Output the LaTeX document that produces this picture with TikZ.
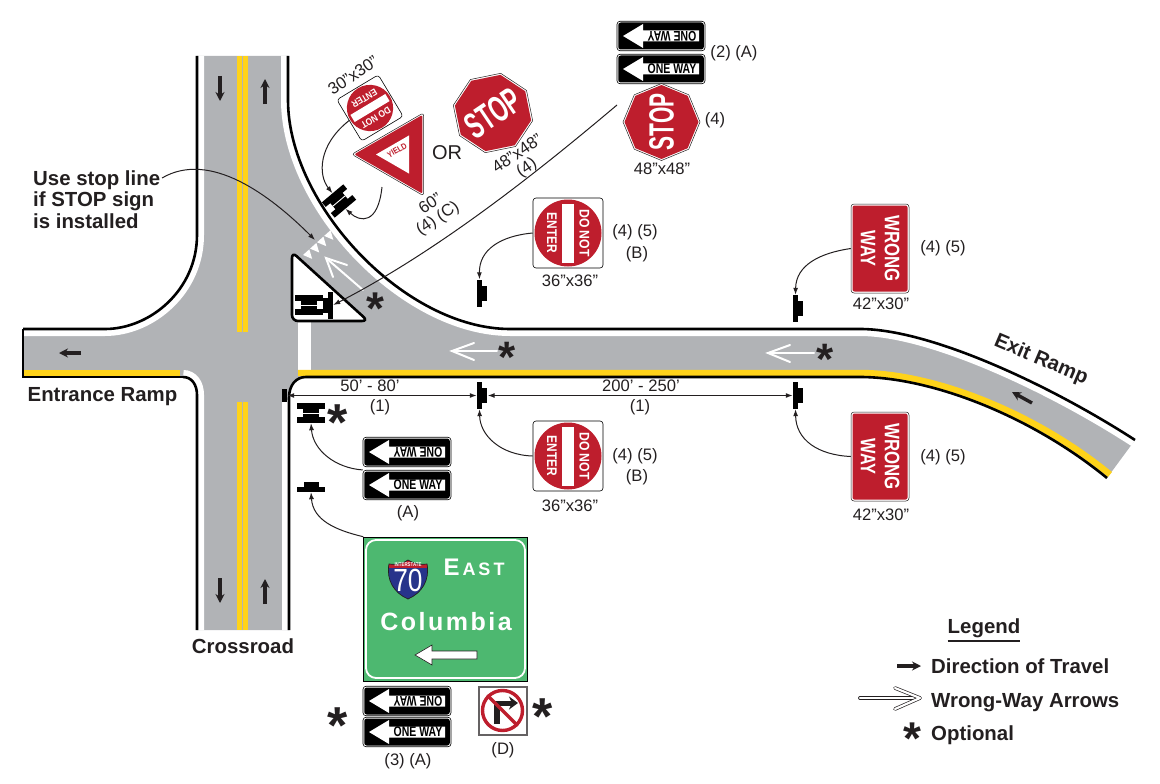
\documentclass[tikz,border=0pt]{standalone}
\usepackage{fontspec}
\setmainfont{Liberation Sans}
\newfontfamily\greenfont[LetterSpace=10]{Liberation Sans}
\usetikzlibrary{shapes.geometric, positioning, arrows.meta}
\definecolor{signred}{HTML}{BE1E2D}
\definecolor{roadgray}{HTML}{B1B3B6}
\definecolor{lineyellow}{HTML}{FFD31A}
\definecolor{signgreen}{HTML}{4DB870}
\definecolor{shieldblue}{HTML}{27348B}
\definecolor{inkblack}{HTML}{231F20}
\tikzset{
    size/.style={font=\fontsize{#1}{#1}\selectfont},
    lab/.style={size=16.6,text=inkblack,inner sep=0pt},
    head/.style={font=\fontsize{20.4}{21.5}\selectfont\bfseries,text=inkblack,inner sep=0pt},
    optstar/.style={font=\fontsize{#1}{#1}\selectfont\bfseries,text=inkblack,inner sep=0pt},
    roadedge/.style={draw=black,line width=2.6,preaction={draw=white,line width=14}},
    conn/.style={-{Latex[length=7pt,width=5pt]},line width=1,draw=inkblack},
    dim/.style={{Latex[length=7pt,width=5pt]}-{Latex[length=7pt,width=5pt]},line width=1.2,draw=inkblack},
    travel/.style={-{Stealth[length=9pt,width=9pt]},line width=3.4,draw=inkblack},
    wrongway/.style={white,line width=2,line cap=round},
    postbar/.style={fill=black,inner sep=0pt,minimum width=5,minimum height=27},
    postbump/.style={fill=black,inner sep=0pt,minimum width=5,minimum height=15},
    every pic/.style={transform shape},
    ibeam/.pic={
        \node[fill=black,inner sep=0pt,minimum width=28,minimum height=6] (-upper) at (0,-7) {};
        \node[fill=black,inner sep=0pt,minimum width=28,minimum height=6] (-lower) at (0,7) {};
        \node[fill=black,inner sep=0pt,minimum width=16,minimum height=9] (-web) at (0,0) {};
        \draw[white,line width=0.9] (-web.west) -- (-web.east);
    },
    oneway/.pic={
        \node[draw=black,fill=white,line width=0.6,rounded corners=3,inner sep=0pt,minimum width=88,minimum height=29.5] (-board) at (0,0) {};
        \node[fill=black,rounded corners=2.5,inner sep=0pt,minimum width=85.5,minimum height=27] (-face) at (0,0) {};
        \fill[white] (-38,0) -- (-18,-12) -- (-18,-5.5) -- (38,-5.5) -- (38,5.5) -- (-18,5.5) -- (-18,12) -- cycle;
        \node[font=\fontsize{14}{14}\selectfont\bfseries,xscale=0.75,inner sep=0pt] (-txt) at (11,0) {ONE WAY};
    },
    yawone/.pic={
        \node[draw=black,fill=white,line width=0.6,rounded corners=3,inner sep=0pt,minimum width=88,minimum height=29.5] (-board) at (0,0) {};
        \node[fill=black,rounded corners=2.5,inner sep=0pt,minimum width=85.5,minimum height=27] (-face) at (0,0) {};
        \fill[white] (-38,0) -- (-18,-12) -- (-18,-5.5) -- (38,-5.5) -- (38,5.5) -- (-18,5.5) -- (-18,12) -- cycle;
        \node[font=\fontsize{14}{14}\selectfont\bfseries,xscale=0.75,rotate=180,inner sep=0pt] (-txt) at (11,0) {ONE WAY};
    },
    donotenter/.pic={
        \node[draw=black,fill=white,line width=0.6,rounded corners=3,inner sep=0pt,minimum size=70] (-board) at (0,0) {};
        \node[circle,fill=signred,inner sep=0pt,minimum size=67] (-disc) at (0,0) {};
        \node[fill=white,inner sep=0pt,minimum width=59,minimum height=12] (-bar) at (0,0) {};
        \node[font=\fontsize{14}{14}\selectfont\bfseries,text=white,xscale=0.87,inner sep=0pt] (-up) at (0,-16.5) {DO NOT};
        \node[font=\fontsize{14}{14}\selectfont\bfseries,text=white,xscale=0.85,inner sep=0pt] (-dn) at (0,16) {ENTER};
    },
    wrongsign/.pic={
        \node[draw=inkblack,fill=white,line width=0.5,rounded corners=3,inner sep=0pt,minimum width=89,minimum height=58] (-board) at (0,0) {};
        \node[fill=signred,rounded corners=2,inner sep=0pt,minimum width=86,minimum height=55] (-face) at (0,0) {};
        \node[font=\fontsize{21}{21}\selectfont\bfseries,text=white,xscale=0.8,inner sep=0pt] (-up) at (0,-12) {WRONG};
        \node[font=\fontsize{21}{21}\selectfont\bfseries,text=white,xscale=0.78,inner sep=0pt] (-dn) at (0,12) {WAY};
    },
    stopsign/.pic={
        \node[regular polygon,regular polygon sides=8,shape border rotate=22.5,draw=inkblack,fill=white,line width=0.5,inner sep=0pt,minimum size=77] (-board) at (0,0) {};
        \node[regular polygon,regular polygon sides=8,shape border rotate=22.5,fill=signred,inner sep=0pt,minimum size=74] (-face) at (0,0) {};
        \node[font=\fontsize{35}{35}\selectfont\bfseries,text=white,xscale=0.6,inner sep=0pt] (-txt) at (0,0) {STOP};
    },
}
\begin{document}
\begin{tikzpicture}[x=1pt,y=-1pt]
    \useasboundingbox (0,0) rectangle (1160,784);
    % pavement
    \fill[roadgray] (197,56) -- (197,235) .. controls (197,290) and (150,329) .. (105,329) -- (23,329) -- (23,377)
        -- (183,377) .. controls (192,377) and (197,385) .. (197,395) -- (197,630) -- (289,630) -- (289,398)
        .. controls (289,385) and (296,377) .. (306,377) -- (860,377) .. controls (930,377) and (1030,415) .. (1107,478)
        -- (1135,440) .. controls (1050,385) and (930,329) .. (860,329) -- (510,329) .. controls (405,329) and (288,205) .. (288,100) -- (288,56) -- cycle;
    % edges of the roads
    \draw[roadedge] (197,56) -- (197,235) .. controls (197,290) and (150,329) .. (105,329) -- (23,329);
    \draw[roadedge] (183,377) .. controls (192,377) and (197,385) .. (197,395) -- (197,630);
    \draw[roadedge] (288,56) -- (288,100) .. controls (288,205) and (405,329) .. (510,329) -- (860,329) .. controls (930,329) and (1050,385) .. (1135,440);
    \fill[white] (282,400) rectangle (289,630);
    \fill[white] (298,321) rectangle (311,370);
    \draw[lineyellow,line width=6.4] (23,373) -- (180,373);
    \draw[lineyellow,line width=6.4] (298,373) -- (860,373) .. controls (932,373) and (1033,411.5) .. (1110,474.5);
    \draw[line width=2.6] (183,377) -- (23,377) -- (23,329);
    \draw[line width=2.6] (289,630) -- (289,398) .. controls (289,385) and (296,377) .. (306,377) -- (860,377) .. controls (930,377) and (1030,415) .. (1107,478);
    % centre lines
    \foreach \x in {239.6,245.4}{
    \draw[lineyellow,line width=5.2] (\x,56) -- (\x,332);
    \draw[lineyellow,line width=5.2] (\x,402) -- (\x,630);
    }
    % stop line teeth
    \begin{scope}[shift={(303,255)},rotate=42]
    \foreach \t in {0,...,3}
    \fill[white] (\t*9.5,0) -- (\t*9.5+8.5,0) -- (\t*9.5+4.2,9) -- cycle;
    \end{scope}
    % island
    \draw[fill=white,line width=2.6,rounded corners=6] (292,252) -- (292,321) -- (368,321) -- cycle;
    \draw[wrongway] (363,290) -- (326,258);
    \draw[wrongway] (347,265) -- (326,258) -- (333,277);
    % arrows on the pavement
    \draw[travel] (220,76) -- (220,101);
    \draw[travel] (265,104) -- (265,79);
    \draw[travel] (220,578) -- (220,603);
    \draw[travel] (265,604) -- (265,579);
    \draw[travel] (81,353) -- (59,353);
    \draw[travel] (1032,403) -- (1012,392);
    \draw[wrongway] (497,351) -- (452,351);
    \draw[wrongway] (474,343) -- (452,351) -- (474,360);
    \draw[wrongway] (814,353) -- (768,353);
    \draw[wrongway] (790,345) -- (768,353) -- (790,362);
    % posts
    \foreach \name/\x/\y in {postB/479.5/293,postW/795.5/308.5,postC/479.5/395.5,postX/795.5/395.5}{
    \node[postbar] (\name) at (\x,\y) {};
    \node[postbump,right=0pt of \name] (\name-b) {};
    }
    \node[fill=black,inner sep=0pt,minimum width=5,minimum height=13] (postS) at (284.5,395.5) {};
    \node[postbar,minimum width=5,minimum height=27] (postI) at (330.5,305) {};
    \node[postbump,minimum width=5,left=0pt of postI] (postI-b) {};
    \pic (ibeamI) at (309,305) {ibeam};
    \pic (ibeamS) at (311,413) {ibeam};
    \pic[rotate=40] (ibeamY) at (339,201) {ibeam};
    \node[fill=black,inner sep=0pt,minimum width=28,minimum height=5] (postT) at (311,489.5) {};
    \node[fill=black,inner sep=0pt,minimum width=15,minimum height=5,above=0pt of postT] (postT-b) {};
    % signs
    \pic (owA) at (661,36) {yawone};
    \pic (owB) at (661,69) {oneway};
    \pic (owC) at (407,452) {yawone};
    \pic (owD) at (407,485) {oneway};
    \pic (owE) at (407,701) {yawone};
    \pic (owF) at (407,732) {oneway};
    \pic[rotate=90] (stopA) at (661.5,122) {stopsign};
    \pic[rotate=34,scale=1.05] (stopB) at (493,113) {stopsign};
    \pic[rotate=-90] (dneA) at (568,233) {donotenter};
    \pic[rotate=-90] (dneB) at (568,456) {donotenter};
    \pic[rotate=211,scale=0.69] (dneC) at (370,108) {donotenter};
    \pic[rotate=-90] (wrongA) at (880,248.5) {wrongsign};
    \pic[rotate=-90] (wrongB) at (880,456.5) {wrongsign};
    % yield
    \node[regular polygon,regular polygon sides=3,shape border rotate=90,rounded corners=3,draw=inkblack,fill=white,line width=0.5,inner sep=0pt,minimum size=96] (yieldA) at (399.7,154.3) {};
    \node[regular polygon,regular polygon sides=3,shape border rotate=90,rounded corners=2,fill=signred,inner sep=0pt,minimum size=91] (yieldR) at (399.7,154.3) {};
    \node[regular polygon,regular polygon sides=3,shape border rotate=90,fill=white,inner sep=0pt,minimum size=44] (yieldW) at (398,154.5) {};
    \node[font=\fontsize{8.5}{8.5}\selectfont\bfseries,text=signred,rotate=30,xscale=0.85,inner sep=0pt] (yieldT) at (397,150.5) {YIELD};
    \coordinate (yieldfoot) at (382,187);
    % guide sign
    \node[draw=black,fill=signgreen,line width=0.6,inner sep=0pt,minimum width=164,minimum height=144] (guide) at (445.5,609) {};
    \draw[white,line width=1.8,rounded corners=10] (366,540) rectangle (525,678);
    \begin{scope}
    \clip (389,564) .. controls (395,565) and (403,564) .. (408,560) .. controls (414,564) and (421,565) .. (427,564) .. controls (430,580) and (422,593) .. (408,599) .. controls (394,593) and (386,580) .. (389,564) -- cycle;
    \fill[shieldblue] (385,556) rectangle (431,603);
    \fill[signred] (385,556) rectangle (431,567.5);
    \end{scope}
    \draw[inkblack,line width=0.7] (389,564) .. controls (395,565) and (403,564) .. (408,560) .. controls (414,564) and (421,565) .. (427,564) .. controls (430,580) and (422,593) .. (408,599) .. controls (394,593) and (386,580) .. (389,564) -- cycle;
    \node[font=\fontsize{5.5}{5.5}\selectfont\bfseries,text=white,xscale=0.8,inner sep=0pt] (shieldT) at (408,564.5) {INTERSTATE};
    \node[font=\fontsize{32}{32}\selectfont,text=white,xscale=0.82,inner sep=0pt] (shieldN) at (408,580.5) {70};
    \node[font=\bfseries,text=white,inner sep=0pt] (east) at (474,567) {\fontsize{24}{24}\selectfont E\fontsize{18}{18}\selectfont\,A\,S\,T};
    \node[font=\fontsize{25}{25}\selectfont\greenfont\bfseries,text=white,inner sep=0pt] (columbia) at (446,622) {Columbia};
    \draw[inkblack,fill=white,line width=0.6] (415,655) -- (432,645) -- (432,651) -- (477,651) -- (477,659) -- (432,659) -- (432,665) -- cycle;
    % no right turn
    \node[draw=inkblack!70,fill=white,line width=1.4,inner sep=0pt,minimum size=48] (noturn) at (503,711) {};
    \draw[inkblack,line width=6] (497,724) -- (497,703);
    \draw[inkblack,-{Stealth[length=9pt,width=13pt]},line width=5] (494,703) -- (518,703);
    \node[circle,draw=signred,line width=3.4,inner sep=0pt,minimum size=40] (noring) at (502.5,710.5) {};
    \draw[signred,line width=3.4] (noring.north west) -- (noring.south east);
    % connectors
    \node[head,align=left,anchor=west] (usestop) at (33,199.5) {Use stop line\\if STOP sign\\is installed};
    \coordinate (stoptail) at (162,178);
    \coordinate (stophead) at (617,105);
    \draw[conn] (stoptail) .. controls (210,150) and (270,195) .. (315,240);
    \draw[conn] (stophead) .. controls (540,170) and (440,250) .. (postI.east);
    \draw[conn] (dneC-board.east) .. controls (318,145) and (318,175) .. (ibeamY-upper.north);
    \draw[conn] (yieldfoot) .. controls (378,225) and (360,222) .. (ibeamY-lower.south);
    \draw[conn] (dneA-board.south) .. controls (500,236) and (479,250) .. (postB.north);
    \draw[conn] (wrongA-board.south) .. controls (820,253) and (796,265) .. (postW.north);
    \draw[conn] (dneB-board.south) .. controls (500,455) and (480,435) .. (postC.south);
    \draw[conn] (wrongB-board.south) .. controls (818,455) and (796,440) .. (postX.south);
    \draw[conn] (owD-board.north west) .. controls (335,468) and (313,450) .. (ibeamS-lower.south);
    \draw[conn] (guide.north west) .. controls (335,530) and (313,520) .. (postT.south);
    \draw[dim] (postS.east) -- (postC.west);
    \draw[dim] (postC-b.east) -- (postX.west);
    % road names
    \node[head] (entrance) at (102.5,396.5) {Entrance Ramp};
    \node[head] (crossroad) at (243,646) {Crossroad};
    \node[head,rotate=-23] (exitramp) at (1041,360) {Exit Ramp};
    \node[head,font=\fontsize{20}{20}\selectfont] (orsign) at (447,153) {OR};
    % sizes and notes
    \node[lab] (dimA) at (370,386) {50’ - 80’};
    \node[lab] (dimB) at (380,407) {(1)};
    \node[lab] (dimC) at (641,386) {200’ - 250’};
    \node[lab] (dimD) at (640,407) {(1)};
    \node[lab] (noteA) at (734,53) {(2) (A)};
    \node[lab] (noteB) at (715,120) {(4)};
    \node[lab] (noteC) at (662,169) {48”x48”};
    \node[lab,rotate=34] (noteD) at (353,75) {30”x30”};
    \node[lab,rotate=34] (noteE) at (517,153) {48”x48”};
    \node[lab,rotate=34] (noteF) at (527,168) {(4)};
    \node[lab,rotate=34] (noteG) at (430,203) {60”};
    \node[lab,rotate=34] (noteH) at (438,219) {(4) (C)};
    \node[lab] (noteI) at (635,232) {(4) (5)};
    \node[lab] (noteJ) at (637,254) {(B)};
    \node[lab] (noteK) at (570,281) {36”x36”};
    \node[lab] (noteL) at (943,248) {(4) (5)};
    \node[lab] (noteM) at (881,304) {42”x30”};
    \node[lab] (noteN) at (635,456) {(4) (5)};
    \node[lab] (noteO) at (637,477) {(B)};
    \node[lab] (noteP) at (570,506) {36”x36”};
    \node[lab] (noteQ) at (943,457) {(4) (5)};
    \node[lab] (noteR) at (881,515) {42”x30”};
    \node[lab] (noteS) at (408,513) {(A)};
    \node[lab] (noteT) at (408,761) {(3) (A)};
    \node[lab] (noteU) at (503,750) {(D)};
    % optional marks
    \node[optstar=46] (starA) at (375,308.5) {*};
    \node[optstar=44] (starB) at (507,357) {*};
    \node[optstar=44] (starC) at (825,359) {*};
    \node[optstar=52] (starD) at (338,423) {*};
    \node[optstar=52] (starE) at (338,726) {*};
    \node[optstar=52] (starF) at (543,717) {*};
    \node[optstar=46] (starG) at (912,738.5) {*};
    % legend
    \node[head] (legend) at (984,628) {Legend};
    \draw[inkblack,line width=1.6] ([yshift=-3]legend.south west) -- ([yshift=-3]legend.south east);
    \draw[travel] (897,666) -- (921,666);
    \draw[inkblack,line width=3.8,line cap=round] (860,698) -- (916,698);
    \draw[white,line width=2.4,line cap=round] (860,698) -- (916,698);
    \draw[inkblack,line width=3.6,line cap=round,line join=round] (895,688) -- (920,698) -- (895,709);
    \draw[white,line width=2.2,line cap=round,line join=round] (895,688) -- (920,698) -- (895,709);
    \node[head,anchor=west] (legendA) at (931,666) {Direction of Travel};
    \node[head,anchor=west] (legendB) at (931,702.5) {Wrong-Way Arrows};
    \node[head,anchor=west] (legendC) at (931,735) {Optional};
\end{tikzpicture}
\end{document}
